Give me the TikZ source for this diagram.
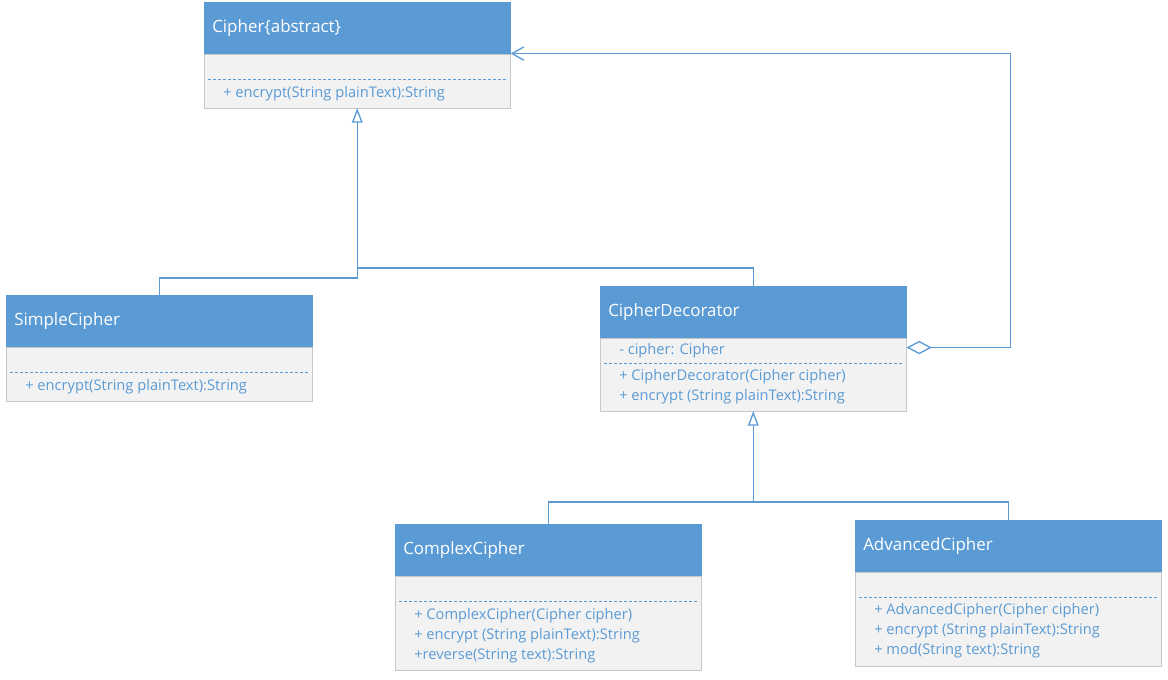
\documentclass[tikz,border=0pt]{standalone}
\usepackage{fontspec}
\setmainfont{Open Sans}
\usetikzlibrary{arrows.meta,positioning}
\definecolor{UMLBlue}{RGB}{91,155,213}
\definecolor{UMLGray}{RGB}{242,242,242}
\definecolor{UMLEdge}{RGB}{200,200,200}

\begin{document}
\begin{tikzpicture}[x=0.75pt,y=-0.75pt,
head/.style={rectangle,draw=UMLBlue,fill=UMLBlue,anchor=north west,text width=217.5pt,inner xsep=6pt,minimum height=38.25pt,align=left,text=white,font=\fontsize{12.7}{15}\selectfont},
body/.style={rectangle,draw=UMLEdge,fill=UMLGray,minimum width=229.5pt},
meth/.style={anchor=north west,inner sep=0pt,align=left,text=UMLBlue,font=\fontsize{11}{15}\selectfont},
sep/.style={draw=UMLBlue,line width=1pt,dash pattern=on 2.25pt off 1.5pt},
line/.style={draw=UMLBlue,line width=1pt},
inh/.style={line,-{Triangle[open,length=11pt,width=8pt]}},
agg/.style={line,{Diamond[open,length=19pt,width=10pt]}-{Straight Barb[length=9pt,width=10pt]}}]
\useasboundingbox (0,0) rectangle (1168,679);
% classes
\node[head] (ci) at (204,2) {Cipher\{abstract\}};
\node[body,below=0pt of ci,minimum height=40.5pt] (ci-b) {};
\node[head] (sc) at (6,295) {SimpleCipher};
\node[body,below=0pt of sc,minimum height=40.5pt] (sc-b) {};
\node[head] (cd) at (600,286) {CipherDecorator};
\node[body,below=0pt of cd,minimum height=54.75pt] (cd-b) {};
\node[head] (cc) at (395,524) {ComplexCipher};
\node[body,below=0pt of cc,minimum height=70.5pt] (cc-b) {};
\node[head] (ac) at (855,520) {AdvancedCipher};
\node[body,below=0pt of ac,minimum height=70.5pt] (ac-b) {};
% members
\foreach \b in {ci-b,sc-b,cd-b,cc-b,ac-b}{\draw[sep] ([shift={(4,26)}]\b.north west) -- ([shift={(-4,26)}]\b.north east);}
\node[meth] (ci-m) at ([shift={(19,33)}]ci-b.north west) {+ encrypt(String plainText):String};
\node[meth] (sc-m) at ([shift={(19,33)}]sc-b.north west) {+ encrypt(String plainText):String};
\node[meth] (cd-a) at ([shift={(19,6)}]cd-b.north west) {- cipher: Cipher};
\node[meth] (cd-m) at ([shift={(19,32)}]cd-b.north west) {+ CipherDecorator(Cipher cipher)\\+ encrypt (String plainText):String};
\node[meth] (cc-m) at ([shift={(19,33)}]cc-b.north west) {+ ComplexCipher(Cipher cipher)\\+ encrypt (String plainText):String\\+reverse(String text):String};
\node[meth] (ac-m) at ([shift={(19,32)}]ac-b.north west) {+ AdvancedCipher(Cipher cipher)\\+ encrypt (String plainText):String\\+ mod(String text):String};
% relations
\coordinate (j1) at (357,268);
\coordinate (j2) at (753,502);
\draw[inh] (sc.north) -- ++(0,-17) -| (ci-b.south);
\draw[line] (cd.north) |- (j1);
\draw[inh] (cc.north) -- ++(0,-22) -| (cd-b.south);
\draw[line] (ac.north) |- (j2);
\draw[agg] ([yshift=-7.5pt]cd-b.north east) -- ++(104,0) |- (ci-b.north east);
\end{tikzpicture}
\end{document}
